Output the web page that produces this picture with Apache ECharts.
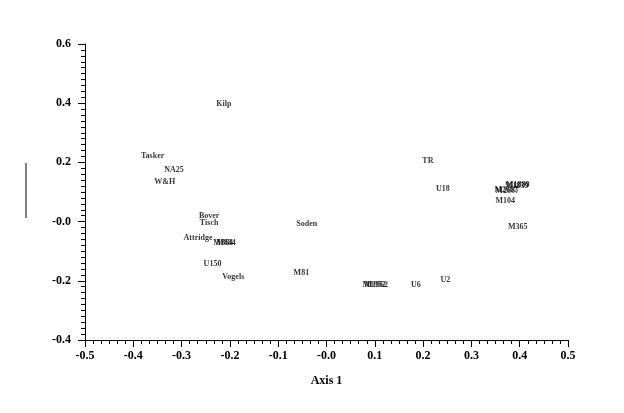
<!DOCTYPE html>
<html>
<head>
<meta charset="utf-8">
<script src="https://cdn.jsdelivr.net/npm/echarts@6/dist/echarts.min.js"></script>
<style>html,body{margin:0;padding:0;background:#fff}#c{width:624px;height:413px}</style>
</head>
<body>
<div id="c"></div>
<script>
const names = ["Kilp","Tasker","NA25","W&H","Bover","Tisch","Attridge","M884","M864","U150","Vogels","Soden","M81","M1962","M1952","U6","U2","TR","U18","M1889","M1839","M2667","M2687","M104","M365"];
const axis1 = [-0.2125,-0.360,-0.3156,-0.335,-0.243,-0.243,-0.266,-0.208,-0.214,-0.236,-0.193,-0.041,-0.052,0.103,0.099,0.185,0.246,0.210,0.241,0.396,0.394,0.372,0.374,0.370,0.396];
const axis2 = [0.399,0.222,0.174,0.134,0.019,-0.003,-0.054,-0.071,-0.071,-0.142,-0.188,-0.009,-0.173,-0.214,-0.214,-0.214,-0.197,0.205,0.110,0.124,0.122,0.107,0.105,0.071,-0.017];
const xTicks = {min:-0.5, max:0.5, step:0.1};
const yTicks = {min:-0.4, max:0.6, step:0.2};
const xTitle = "Axis 1";

const fmt = v => (Math.abs(v) < 1e-9 ? "-0.0" : v.toFixed(1));
const font = "Liberation Serif";
const chart = echarts.init(document.getElementById('c'), null, {renderer:'canvas'});
const data = names.map((n,i)=>({name:n, value:[axis1[i], axis2[i]]}));
chart.setOption({
  animation:false,
  backgroundColor:'#fff',
  grid:{left:85, right:56, top:44, bottom:73, containLabel:false},
  xAxis:{
    type:'value', min:xTicks.min, max:xTicks.max, interval:xTicks.step,
    name:xTitle, nameLocation:'middle', nameGap:35,
    nameTextStyle:{fontFamily:font, fontWeight:'bold', fontSize:12, color:'#000'},
    axisLine:{show:true, onZero:false, lineStyle:{color:'#000', width:1}},
    axisTick:{show:true, inside:false, length:7, lineStyle:{color:'#000'}},
    minorTick:{show:true, splitNumber:6, length:4, lineStyle:{color:'#000'}},
    splitLine:{show:false},
    axisLabel:{formatter:fmt, fontFamily:font, fontWeight:'bold', fontSize:12, color:'#000', margin:10}
  },
  yAxis:{
    type:'value', min:yTicks.min, max:yTicks.max, interval:yTicks.step,
    axisLine:{show:true, onZero:false, lineStyle:{color:'#000', width:1}},
    axisTick:{show:true, inside:false, length:7, lineStyle:{color:'#000'}},
    minorTick:{show:true, splitNumber:10, length:4, lineStyle:{color:'#000'}},
    splitLine:{show:false},
    axisLabel:{formatter:fmt, fontFamily:font, fontWeight:'bold', fontSize:12, color:'#000', margin:14}
  },
  series:[{
    type:'scatter', data:data, symbolSize:1,
    itemStyle:{color:'rgba(0,0,0,0)'},
    label:{show:true, position:'inside', formatter:p=>p.name, fontFamily:font, fontWeight:'bold', fontSize:8, color:'#000'},
    emphasis:{disabled:true}
  }],
  graphic:[{type:'line', shape:{x1:26, y1:163, x2:26, y2:218}, style:{stroke:'#000', lineWidth:1}}]
});
</script>
</body>
</html>
